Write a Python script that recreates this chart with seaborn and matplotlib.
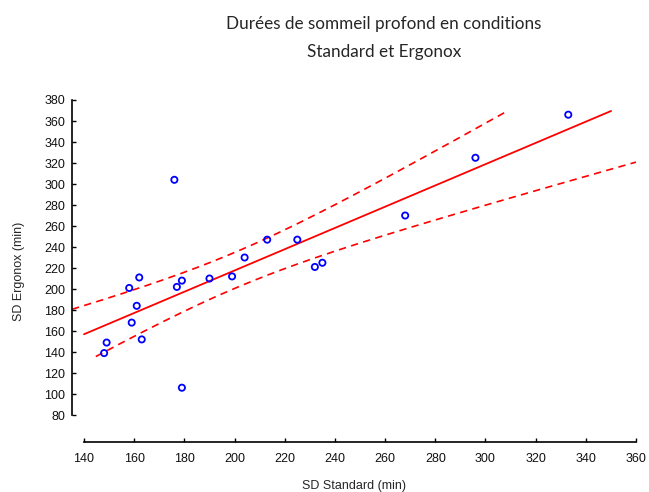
import numpy as np
import pandas as pd
import matplotlib
matplotlib.use("Agg")
import matplotlib.pyplot as plt
import seaborn as sns

# Data
sd_standard = [333, 296, 268, 225, 213, 232, 235, 204, 199, 190, 179,
               177, 162, 158, 161, 159, 163, 149, 148, 179, 176]
sd_ergonox = [366, 325, 270, 247, 247, 221, 225, 230, 212, 210, 208,
              202, 211, 201, 184, 168, 152, 149, 139, 106, 304]
x_ticks = list(range(140, 361, 20))
y_ticks = list(range(80, 381, 20))
title_lines = ["Durées de sommeil profond en conditions", "Standard et Ergonox"]

df = pd.DataFrame({"SD Standard (min)": sd_standard, "SD Ergonox (min)": sd_ergonox})

sns.set_theme(style="white")
plt.rcParams["font.family"] = ["Liberation Sans", "DejaVu Sans"]

fig = plt.figure(figsize=(6.49, 4.92), dpi=100)
ax = fig.add_axes([72 / 649, 1 - 442 / 492, (636 - 72) / 649, (442 - 100) / 492])

# regression + 95% confidence band of the mean
x = np.asarray(sd_standard, float)
y = np.asarray(sd_ergonox, float)
n = len(x)
b, a = np.polyfit(x, y, 1)
resid = y - (a + b * x)
s = np.sqrt(np.sum(resid ** 2) / (n - 2))
sxx = np.sum((x - x.mean()) ** 2)
t = 2.093  # t(0.975, 19)

xlo, xhi = 135.2, 360
ylo, yhi = 54.3, 380
clip_top = 370

def masked(xs, ys):
    ys = ys.copy()
    ys[ys > clip_top] = np.nan
    return xs, ys

xs = np.linspace(140, 360, 400)
xs_u = np.linspace(xlo, 360, 400)
xs_l = np.linspace(144.7, 360, 400)

def fit(xx):
    return a + b * xx

def half(xx):
    return t * s * np.sqrt(1 / n + (xx - x.mean()) ** 2 / sxx)

red = "#ff0000"
lx, ly = masked(xs, fit(xs))
ux, uy = masked(xs_u, fit(xs_u) + half(xs_u))
dx, dy = masked(xs_l, fit(xs_l) - half(xs_l))
sns.lineplot(x=lx, y=ly, ax=ax, color=red, lw=1.3, sort=False)
sns.lineplot(x=ux, y=uy, ax=ax, color=red, lw=1.2, sort=False)
ax.lines[-1].set_dashes([4.4, 3.2])
sns.lineplot(x=dx, y=dy, ax=ax, color=red, lw=1.2, sort=False)
ax.lines[-1].set_dashes([4.4, 3.2])

sns.scatterplot(data=df, x="SD Standard (min)", y="SD Ergonox (min)", ax=ax,
                marker="o", s=20, facecolors="none", edgecolor="#0000ff",
                linewidth=1.3, zorder=5)

ax.set_xlim(xlo, xhi)
ax.set_ylim(ylo, yhi)
ax.set_xticks(x_ticks)
ax.set_yticks(y_ticks)
for sp in ["top", "right"]:
    ax.spines[sp].set_visible(False)
ax.spines["left"].set_bounds(80, 380)
ax.spines["bottom"].set_bounds(140, 360)
for sp in ["left", "bottom"]:
    ax.spines[sp].set_color("black")
    ax.spines[sp].set_linewidth(1.2)
ax.tick_params(axis="both", direction="in", length=3, width=1, color="black",
               labelsize=9, labelcolor="#111111", left=True, bottom=True, pad=5)
ax.tick_params(axis="x", pad=8)
ax.set_xlabel("SD Standard (min)", fontsize=9, labelpad=11)
ax.set_ylabel("SD Ergonox (min)", fontsize=9, labelpad=14)
ax.patch.set_alpha(0)

for i, line in enumerate(title_lines):
    fig.text(384 / 649, 1 - (29 + 28 * i) / 492, line,
             ha="center", va="baseline", fontsize=12.3, family=["Lato", "DejaVu Sans"])

fig.savefig("out.png", dpi=100)
